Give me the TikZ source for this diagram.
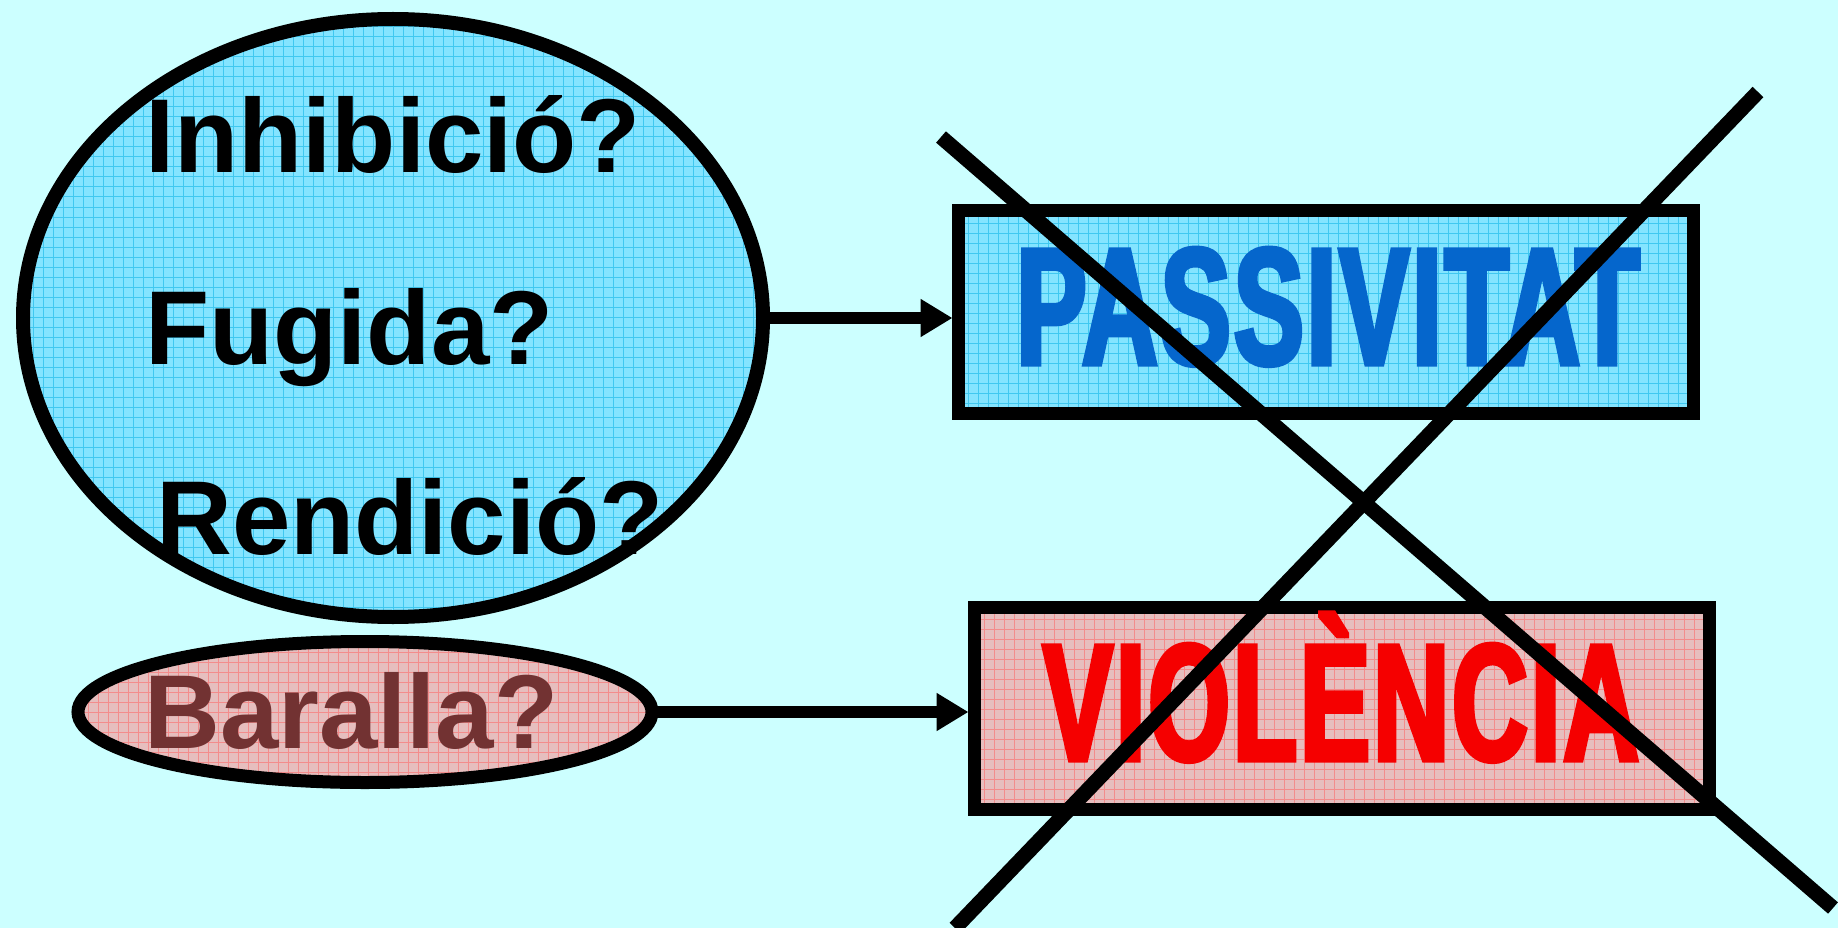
\documentclass[tikz,border=0pt]{standalone}
\usepackage{fontspec}
\setmainfont{Liberation Sans}
\newfontfamily\impactlike{Liberation Sans}[FakeStretch=0.63,FakeBold=3,LetterSpace=2]
\usetikzlibrary{shapes.geometric,arrows.meta}
\definecolor{bgcol}{HTML}{CCFFFF}
\definecolor{bluefill}{HTML}{84E4FF}
\definecolor{blueline}{HTML}{40C8F0}
\definecolor{pinkfill}{HTML}{E6BEBE}
\definecolor{pinkline}{HTML}{F38C8C}
\definecolor{passblue}{HTML}{0566CC}
\definecolor{violred}{HTML}{F50000}
\definecolor{barallacol}{HTML}{723232}
\tikzset{
  gridfill/.style n args={2}{fill=#1, path picture={
    \foreach \k in {0,10,...,800}{
      \draw[#2,line width=1pt] ([xshift=\k pt]path picture bounding box.south west) -- ([xshift=\k pt]path picture bounding box.north west);
      \draw[#2,line width=1pt] ([yshift=\k pt]path picture bounding box.south west) -- ([yshift=\k pt]path picture bounding box.south east);
    }}},
  bigtext/.style={inner sep=0pt, anchor=base west, font=\bfseries\fontsize{105}{105}\selectfont},
  boxtext/.style={inner sep=0pt, anchor=base, font=\impactlike\bfseries\fontsize{166}{166}\selectfont},
  framebox/.style={rectangle, draw=black, line width=13pt, inner sep=0pt, outer sep=0pt},
  conn/.style={line width=12pt, -{Triangle[length=32pt,width=36pt]}, shorten >=6pt},
  crossline/.style={line width=15pt, black},
}
\begin{document}
\begin{tikzpicture}[x=1pt,y=-1pt]
\path[use as bounding box, fill=bgcol] (0,0) rectangle (1838,928);
% ellipses
\node[ellipse, draw=black, line width=14pt, inner sep=0pt, outer sep=0pt,
      minimum width=740pt, minimum height=598pt, gridfill={bluefill}{blueline}] (big) at (393,318) {};
\node[ellipse, draw=black, line width=13pt, inner sep=0pt, outer sep=0pt,
      minimum width=574pt, minimum height=141pt, gridfill={pinkfill}{pinkline}] (small) at (365,712) {};
% boxes
\node[framebox, minimum width=735pt, minimum height=203pt, gridfill={bluefill}{blueline}] (pass) at (1326,312) {};
\node[framebox, minimum width=735pt, minimum height=202pt, gridfill={pinkfill}{pinkline}] (viol) at (1342,708.5) {};
% texts
\node[bigtext] (t1) at (145,173) {Inhibició?};
\node[bigtext] (t2) at (145,364) {Fugida?};
\node[bigtext] (t3) at (156,554) {Rendició?};
\node[bigtext, text=barallacol] (t4) at (144,748) {Baralla?};
\node[boxtext, text=passblue] (tp) at (1328,364) {PASSIVITAT};
\node[boxtext, text=violred] (tv) at (1341,760) {VIOLÈNCIA};
% connectors
\draw[conn] (big.east) -- (big.east -| pass.west);
\draw[conn] (small.east) -- (small.east -| viol.west);
% cross
\coordinate (c1a) at (941,137);
\coordinate (c1b) at (1833,908);
\coordinate (c2a) at (1758,92);
\coordinate (c2b) at (955,928);
\draw[crossline] (c1a) -- (c1b);
\draw[crossline] (c2a) -- (c2b);
\end{tikzpicture}
\end{document}
